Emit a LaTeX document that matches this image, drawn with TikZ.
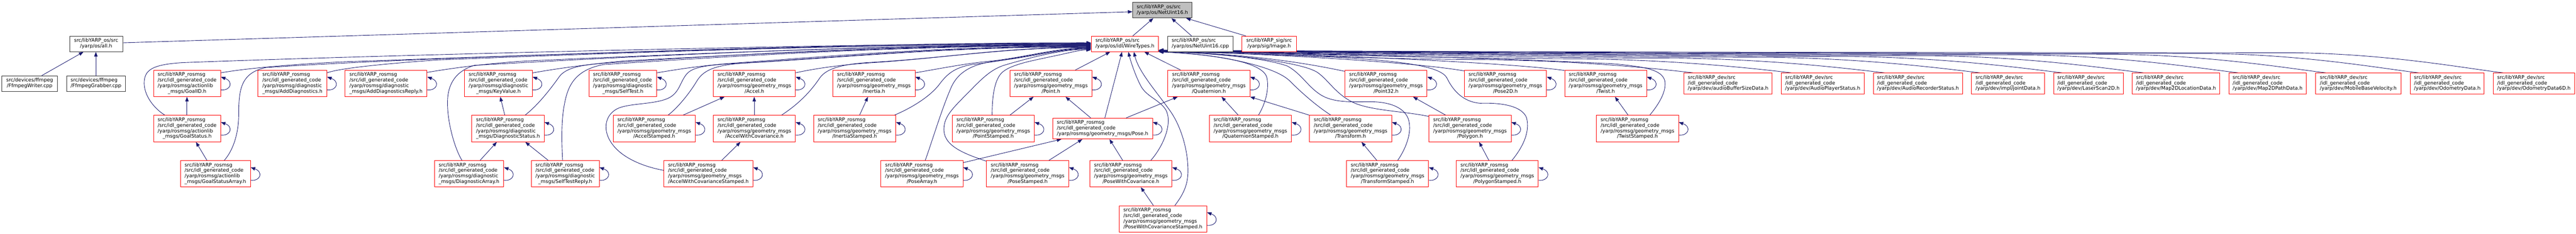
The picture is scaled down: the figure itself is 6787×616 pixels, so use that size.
\documentclass[tikz,border=0pt]{standalone}
\usepackage{fontspec}
\setmainfont{DejaVu Sans}
\usetikzlibrary{arrows.meta}
\definecolor{edgeblue}{HTML}{191970}
\definecolor{nodered}{HTML}{FF0000}
\definecolor{nodeblack}{HTML}{333333}
\definecolor{nodegrey}{HTML}{BFBFBF}
\pgfdeclarelayer{bg}
\pgfsetlayers{bg,main}
\newcommand\lbltab[1]{\begin{tabular}{@{}l@{}}#1\end{tabular}}
\newcommand\lastln[1]{\multicolumn{1}{@{}c@{}}{#1}}
\newcommand\rospre{src/libYARP\_rosmsg\\/src/idl\_generated\_code\\}
\newcommand\rosact[1]{\lbltab{\rospre/yarp/rosmsg/actionlib\\\lastln{\_msgs/#1}}}
\newcommand\rosdia[1]{\lbltab{\rospre/yarp/rosmsg/diagnostic\\\lastln{\_msgs/#1}}}
\newcommand\rosgeo[1]{\lbltab{\rospre/yarp/rosmsg/geometry\_msgs\\\lastln{/#1}}}
\newcommand\devlbl[1]{\lbltab{src/libYARP\_dev/src\\/idl\_generated\_code\\\lastln{/yarp/dev/#1}}}
\newcommand\twolbl[2]{\lbltab{#1\\\lastln{#2}}}
\tikzset{
  nd/.style={draw, line width=1.2pt, inner sep=0pt, anchor=north west, fill=white,
    font=\fontsize{13pt}{14.7pt}\selectfont},
  rnd/.style={nd, draw=nodered},
  bnd/.style={nd, draw=nodeblack},
  gnd/.style={nd, draw=nodeblack, fill=nodegrey},
  geo4/.style={rnd, minimum height=69.5pt},
  dev3/.style={rnd, minimum height=55pt},
  two/.style={minimum height=40.8pt},
  lnk/.style={draw=edgeblue, line width=1.2pt, -{Triangle[length=12pt,width=9pt]}}
}
\newcommand\sloop[1]{\draw[lnk] ([yshift=-17pt]#1.east) .. controls +(26pt,-3pt) and +(34pt,-12pt) .. ([yshift=17pt]#1.east);}
\newcommand\devedge[5]{\draw[lnk] ([xshift=#2pt]#1.north west) .. controls ({#3-100},180) and ({#3-300},{#4+3}) .. ({#3-550},#4) .. controls ({#3-550-0.4*(#3-3602)},{#4-1}) and ({3052+0.25*(#3-3602)},137) .. ([yshift=#5pt]wiretypes.south east);}
\begin{document}
\begin{tikzpicture}[x=1pt,y=-1pt]
\useasboundingbox (0,0) rectangle (6787,616);
% ---------- nodes ----------
\node[bnd, two, minimum width=145.8pt] (ffw) at (4.7,199) {\twolbl{src/devices/ffmpeg}{/FfmpegWriter.cpp}};
\node[bnd, two, minimum width=155.2pt] (ffg) at (174.8,199) {\twolbl{src/devices/ffmpeg}{/FfmpegGrabber.cpp}};
\node[bnd, two, minimum width=139.6pt] (all) at (182.8,94.7) {\twolbl{src/libYARP\_os/src}{/yarp/os/all.h}};
\node[geo4, minimum width=176.5pt] (goalid) at (404.2,184.3) {\rosact{GoalID.h}};
\node[geo4, minimum width=176.5pt] (goalstatus) at (404.2,303.3) {\rosact{GoalStatus.h}};
\node[geo4, minimum width=184.5pt] (goalstatusarray) at (474.7,422.4) {\rosact{GoalStatusArray.h}};
\node[geo4, minimum width=181.4pt] (adddiag) at (679.2,184.3) {\rosdia{AddDiagnostics.h}};
\node[geo4, minimum width=216.3pt] (adddiagreply) at (908.2,184.3) {\rosdia{AddDiagnosticsReply.h}};
\node[geo4, minimum width=178.6pt] (keyvalue) at (1223.4,184.3) {\rosdia{KeyValue.h}};
\node[geo4, minimum width=178.5pt] (selftest) at (1551.2,184.3) {\rosdia{SelfTest.h}};
\node[geo4, minimum width=190.7pt] (diagstatus) at (1242.5,303.3) {\rosdia{DiagnosticStatus.h}};
\node[geo4, minimum width=182.7pt] (diagarray) at (1143.8,422.4) {\rosdia{DiagnosticArray.h}};
\node[geo4, minimum width=178.6pt] (selftestreply) at (1399.4,422.4) {\rosdia{SelfTestReply.h}};
\node[geo4, minimum width=216.3pt] (accelstamped) at (1615,303.3) {\rosgeo{AccelStamped.h}};
\node[geo4, minimum width=216pt] (accel) at (1879,184.3) {\rosgeo{Accel.h}};
\node[geo4, minimum width=216pt] (accelwc) at (1879,303.3) {\rosgeo{AccelWithCovariance.h}};
\node[geo4, minimum width=234.7pt] (accelwcs) at (1748.4,422.4) {\rosgeo{AccelWithCovarianceStamped.h}};
\node[geo4, minimum width=216.6pt] (inertia) at (2193.6,184.3) {\rosgeo{Inertia.h}};
\node[geo4, minimum width=216.3pt] (inertiastamped) at (2143,303.3) {\rosgeo{InertiaStamped.h}};
\node[geo4, minimum width=215.9pt] (point) at (2660.3,184.3) {\rosgeo{Point.h}};
\node[geo4, minimum width=216pt] (pointstamped) at (2508.5,303.3) {\rosgeo{PointStamped.h}};
\node[geo4, minimum width=216pt] (posearray) at (2320.4,422.4) {\rosgeo{PoseArray.h}};
\node[geo4, minimum width=216.4pt] (posestamped) at (2598.7,422.4) {\rosgeo{PoseStamped.h}};
\node[rnd, minimum width=263.3pt, minimum height=55pt] (pose) at (2772.5,310.4) {\lbltab{src/libYARP\_rosmsg\\/src/idl\_generated\_code\\\lastln{/yarp/rosmsg/geometry\_msgs/Pose.h}}};
\node[gnd, two, minimum width=156.2pt] (netuint16) at (2983.7,5.9) {\twolbl{src/libYARP\_os/src}{/yarp/os/NetUint16.h}};
\node[rnd, two, minimum width=177.5pt] (wiretypes) at (2874.4,94.7) {\twolbl{src/libYARP\_os/src}{/yarp/os/idl/WireTypes.h}};
\node[bnd, two, minimum width=171.2pt] (netuint16cpp) at (3076.5,94.7) {\twolbl{src/libYARP\_os/src}{/yarp/os/NetUint16.cpp}};
\node[rnd, two, minimum width=143.3pt] (image) at (3271.5,94.7) {\twolbl{src/libYARP\_sig/src}{/yarp/sig/Image.h}};
\node[geo4, minimum width=215.9pt] (quaternion) at (3076.5,184.3) {\rosgeo{Quaternion.h}};
\node[geo4, minimum width=216.3pt] (quaternionstamped) at (3185.7,303.3) {\rosgeo{QuaternionStamped.h}};
\node[geo4, minimum width=216.4pt] (posewc) at (2870.7,422.4) {\rosgeo{PoseWithCovariance.h}};
\node[geo4, minimum width=231.1pt] (posewcs) at (2947.7,541) {\rosgeo{PoseWithCovarianceStamped.h}};
\node[geo4, minimum width=216.4pt] (point32) at (3542.8,184.3) {\rosgeo{Point32.h}};
\node[geo4, minimum width=216.3pt] (transform) at (3449.7,303.3) {\rosgeo{Transform.h}};
\node[geo4, minimum width=216pt] (transformstamped) at (3547.2,422.4) {\rosgeo{TransformStamped.h}};
\node[geo4, minimum width=216.3pt] (polygon) at (3764.3,303.3) {\rosgeo{Polygon.h}};
\node[geo4, minimum width=216.2pt] (polygonstamped) at (3836.2,422.4) {\rosgeo{PolygonStamped.h}};
\node[geo4, minimum width=216.7pt] (pose2d) at (3857.4,184.3) {\rosgeo{Pose2D.h}};
\node[geo4, minimum width=216pt] (twist) at (4121.7,184.3) {\rosgeo{Twist.h}};
\node[geo4, minimum width=216pt] (twiststamped) at (4205.7,303.3) {\rosgeo{TwistStamped.h}};
\node[dev3, minimum width=232pt] (audiobuf) at (4436.4,191.7) {\devlbl{audioBufferSizeData.h}};
\node[dev3, minimum width=218.9pt] (audioplayer) at (4692.3,191.7) {\devlbl{AudioPlayerStatus.h}};
\node[dev3, minimum width=235.3pt] (audiorec) at (4935,191.7) {\devlbl{AudioRecorderStatus.h}};
\node[dev3, minimum width=192.9pt] (jointdata) at (5193.4,191.7) {\devlbl{impl/jointData.h}};
\node[dev3, minimum width=182.7pt] (laserscan) at (5410.5,191.7) {\devlbl{LaserScan2D.h}};
\node[dev3, minimum width=230.9pt] (map2dloc) at (5617,191.7) {\devlbl{Map2DLocationData.h}};
\node[dev3, minimum width=204.2pt] (map2dpath) at (5871.8,191.7) {\devlbl{Map2DPathData.h}};
\node[dev3, minimum width=225.8pt] (mobilebase) at (6099.8,191.7) {\devlbl{MobileBaseVelocity.h}};
\node[dev3, minimum width=194.8pt] (odom) at (6349.8,191.7) {\devlbl{OdometryData.h}};
\node[dev3, minimum width=213.4pt] (odom6d) at (6568.8,191.7) {\devlbl{OdometryData6D.h}};
% ---------- connectors ----------
\begin{pgfonlayer}{bg}
\fill[white] (0,0) rectangle (6787,616);
% straight ones
\draw[lnk] ([xshift=105.4pt]ffw.north west) -- ([xshift=37.1pt]all.south west);
\draw[lnk] ([xshift=77.8pt]ffg.north west) -- ([xshift=69.8pt]all.south west);
\draw[lnk] ([yshift=3pt]all.east) -- ([yshift=-4pt]netuint16.west);
\draw[lnk] ([xshift=88.4pt]goalstatus.north west) -- ([xshift=88.4pt]goalid.south west);
\draw[lnk] ([xshift=70.6pt]goalstatusarray.north west) -- ([xshift=112pt]goalstatus.south west);
\draw[lnk] ([xshift=87.5pt]diagstatus.north west) -- ([xshift=94.6pt]keyvalue.south west);
\draw[lnk] ([xshift=121pt]diagarray.north west) -- ([xshift=66.4pt]diagstatus.south west);
\draw[lnk] ([xshift=45.1pt]selftestreply.north west) -- ([xshift=141.5pt]diagstatus.south west);
\draw[lnk] ([xshift=184.4pt]accelstamped.north west) -- ([xshift=29.7pt]accel.south west);
\draw[lnk] ([xshift=108.2pt]accelwc.north west) -- ([xshift=108.2pt]accel.south west);
\draw[lnk] ([xshift=153pt]accelwcs.north west) -- ([xshift=71.9pt]accelwc.south west);
\draw[lnk] ([xshift=121.7pt]inertiastamped.north west) -- ([xshift=93.1pt]inertia.south west);
\draw[lnk] ([xshift=152.2pt]pointstamped.north west) -- ([xshift=62.7pt]point.south west);
\draw[lnk] ([yshift=-6pt]posearray.north east) -- ([xshift=23.9pt]pose.south west);
\draw[lnk] ([xshift=164.7pt]posestamped.north west) -- ([xshift=79.2pt]pose.south west);
\draw[lnk] ([xshift=101.2pt]pose.north west) -- ([xshift=147.1pt]point.south west);
\draw[lnk] ([xshift=173pt]point.north west) -- ([xshift=50.6pt]wiretypes.south west);
\draw[lnk] ([xshift=138.5pt]pose.north west) -- ([xshift=81.8pt]wiretypes.south west);
\draw[lnk] ([xshift=33.7pt]quaternion.north west) -- ([xshift=140.5pt]wiretypes.south west);
\draw[lnk] ([xshift=194.7pt]pose.north west) -- ([xshift=26.4pt]quaternion.south west);
\draw[lnk] ([xshift=87.3pt]posewc.north west) -- ([xshift=150.7pt]pose.south west);
\draw[lnk] ([xshift=91pt]posewcs.north west) -- ([xshift=135pt]posewc.south west);
\draw[lnk] ([xshift=76.7pt]quaternionstamped.north west) -- ([xshift=141.9pt]quaternion.south west);
\draw[lnk] ([xshift=110pt]wiretypes.north west) -- ([xshift=55pt]netuint16.south west);
\draw[lnk] ([xshift=63pt]netuint16cpp.north west) -- ([xshift=102.7pt]netuint16.south west);
\draw[lnk] ([xshift=11pt]image.north west) -- ([xshift=141.2pt]netuint16.south west);
\draw[lnk] (transform.north west) -- (quaternion.south east);
\draw[lnk] ([xshift=80.3pt]transformstamped.north west) -- ([xshift=137.5pt]transform.south west);
\draw[lnk] ([xshift=44.7pt]polygon.north west) -- ([xshift=180.1pt]point32.south west);
\draw[lnk] ([xshift=86.5pt]polygonstamped.north west) -- ([xshift=132.7pt]polygon.south west);
\draw[lnk] ([xshift=84pt]twiststamped.north west) -- ([xshift=133.2pt]twist.south west);
% left bundle into WireTypes
\draw[lnk] ([yshift=-7.4pt]goalid.north east) .. controls (650,180) and (760,170) .. (900,163) .. controls (1500,142) and (2300,112) .. ([yshift=3.1pt]wiretypes.west);
\draw[lnk] ([xshift=30.2pt]goalstatus.north west) .. controls (405,285) and (378,250) .. (380,215) .. controls (382,185) and (400,170) .. (480,165) .. controls (1000,145) and (2300,113) .. ([yshift=2.1pt]wiretypes.west);
\draw[lnk] ([xshift=116.2pt]goalstatusarray.north west) .. controls (615,395) and (629,350) .. (629,300) .. controls (629,235) and (635,192) .. (700,178) .. controls (1100,150) and (2300,114) .. ([yshift=1.1pt]wiretypes.west);
\draw[lnk] ([yshift=-7.4pt]adddiag.north east) .. controls (900,178) and (1040,166) .. (1150,158) .. controls (1600,140) and (2300,115) .. ([yshift=0.1pt]wiretypes.west);
\draw[lnk] ([yshift=-6.3pt]adddiagreply.north east) .. controls (1200,178) and (1300,165) .. (1400,160) .. controls (1800,142) and (2400,117) .. ([yshift=-1.9pt]wiretypes.west);
\draw[lnk] ([yshift=-7.7pt]keyvalue.north east) .. controls (1470,180) and (1560,168) .. (1650,160) .. controls (2000,142) and (2400,119) .. ([yshift=-3.9pt]wiretypes.west);
\draw[lnk] ([xshift=73.4pt]diagarray.north west) .. controls (1200,395) and (1180,330) .. (1179,275) .. controls (1178,232) and (1192,190) .. (1250,172) .. controls (1600,152) and (2300,116) .. ([yshift=-0.9pt]wiretypes.west);
\draw[lnk] ([xshift=140.8pt]diagstatus.north west) .. controls (1420,275) and (1455,228) .. (1475,200) .. controls (1495,176) and (1540,170) .. (1600,166) .. controls (1900,146) and (2350,118) .. ([yshift=-2.9pt]wiretypes.west);
\draw[lnk] ([xshift=82.9pt]selftestreply.north west) .. controls (1480,380) and (1478,320) .. (1487,275) .. controls (1495,232) and (1510,185) .. (1590,170) .. controls (1900,150) and (2350,120) .. ([yshift=-4.9pt]wiretypes.west);
\draw[lnk] ([yshift=-7.4pt]selftest.north east) .. controls (1790,182) and (1850,172) .. (1950,165) .. controls (2200,147) and (2500,121) .. ([yshift=-5.9pt]wiretypes.west);
\draw[lnk] ([xshift=145.2pt]accelstamped.north west) .. controls (1790,280) and (1820,240) .. (1835,215) .. controls (1852,186) and (1880,172) .. (1960,166) .. controls (2220,150) and (2500,122) .. ([yshift=-6.9pt]wiretypes.west);
\draw[lnk] ([yshift=9.2pt]accelwcs.west) .. controls (1700,440) and (1640,418) .. (1612,378) .. controls (1588,345) and (1592,305) .. (1625,287) .. controls (1655,271) and (1725,276) .. (1762,258) .. controls (1792,243) and (1792,212) .. (1812,192) .. controls (1830,175) and (1870,170) .. (1965,166) .. controls (2230,151) and (2500,123) .. ([yshift=-7.9pt]wiretypes.west);
\draw[lnk] ([yshift=-7.4pt]accel.north east) .. controls (2150,180) and (2220,170) .. (2300,165) .. controls (2500,152) and (2650,124) .. ([yshift=-8.9pt]wiretypes.west);
\draw[lnk] ([xshift=180pt]accelwc.north west) .. controls (2110,270) and (2140,235) .. (2160,205) .. controls (2178,180) and (2220,168) .. (2300,164) .. controls (2500,152) and (2650,125) .. ([yshift=-9.9pt]wiretypes.west);
\draw[lnk] ([yshift=-7.4pt]inertia.north east) .. controls (2480,180) and (2540,168) .. (2600,162) .. controls (2700,152) and (2780,126) .. ([yshift=-10.9pt]wiretypes.west);
\draw[lnk] ([xshift=213.3pt]inertiastamped.north west) .. controls (2400,285) and (2450,255) .. (2475,222) .. controls (2495,195) and (2515,178) .. (2560,170) .. controls (2680,157) and (2780,127) .. ([yshift=-11.9pt]wiretypes.west);
\draw[lnk] ([xshift=117.3pt]posearray.north west) .. controls (2460,360) and (2480,290) .. (2507,228) .. controls (2525,190) and (2560,170) .. (2615,162) .. controls (2720,150) and (2800,128) .. ([yshift=-12.9pt]wiretypes.west);
\draw[lnk] ([yshift=-2pt]posestamped.north west) .. controls (2540,405) and (2490,385) .. (2487,345) .. controls (2485,312) and (2505,290) .. (2540,255) .. controls (2580,215) and (2605,185) .. (2645,172) .. controls (2720,150) and (2800,129.5) .. ([yshift=-14.4pt]wiretypes.west);
\draw[lnk] ([xshift=105.3pt]pointstamped.north west) .. controls (2614,262) and (2618,215) .. (2638,193) .. controls (2660,170) and (2720,160) .. (2765,150) .. controls (2815,140) and (2845,131) .. ([yshift=-15.9pt]wiretypes.west);
% near WireTypes from below
\draw[lnk] ([xshift=161.3pt]posewc.north west) .. controls (3065,385) and (3090,325) .. (3072,290) .. controls (3055,262) and (3020,255) .. (3005,225) .. controls (2992,200) and (2980,165) .. ([xshift=98.3pt]wiretypes.south west);
\draw[lnk] ([xshift=147.8pt]posewcs.north west) .. controls (3115,515) and (3130,490) .. (3130,450) .. controls (3130,395) and (3112,335) .. (3085,295) .. controls (3050,245) and (3000,190) .. ([xshift=113pt]wiretypes.south west);
% right bundle into WireTypes
\draw[lnk] ([xshift=129.9pt]quaternionstamped.north west) .. controls (3330,280) and (3345,240) .. (3338,205) .. controls (3330,168) and (3230,145) .. (wiretypes.south east);
\draw[lnk] ([xshift=56.8pt]transform.north west) .. controls (3470,280) and (3430,245) .. (3400,215) .. controls (3360,172) and (3200,142) .. ([yshift=1pt]wiretypes.south east);
\draw[lnk] ([yshift=-3.5pt]point32.north west) .. controls (3450,168) and (3300,142) .. ([yshift=1.5pt]wiretypes.south east);
\draw[lnk] ([xshift=135.3pt]transformstamped.north west) .. controls (3705,390) and (3722,345) .. (3710,312) .. controls (3698,282) and (3660,268) .. (3610,268) .. controls (3570,268) and (3515,272) .. (3480,250) .. controls (3445,228) and (3430,195) .. (3392,174) .. controls (3320,148) and (3150,139) .. ([yshift=2pt]wiretypes.south east);
\draw[lnk] ([yshift=-3.2pt]polygon.north west) .. controls (3700,293) and (3620,292) .. (3570,272) .. controls (3520,250) and (3500,210) .. (3470,190) .. controls (3420,160) and (3220,141) .. ([yshift=2.5pt]wiretypes.south east);
\draw[lnk] ([xshift=147.3pt]polygonstamped.north west) .. controls (4010,390) and (4032,350) .. (4022,310) .. controls (4010,280) and (3960,270) .. (3900,272) .. controls (3850,268) and (3825,232) .. (3812,205) .. controls (3795,175) and (3700,160) .. (3500,150) .. controls (3300,141) and (3150,138) .. ([yshift=3pt]wiretypes.south east);
\draw[lnk] ([yshift=-2.3pt]pose2d.north west) .. controls (3700,160) and (3300,141) .. ([yshift=3.5pt]wiretypes.south east);
\draw[lnk] ([yshift=-1.2pt]twist.north west) .. controls (3950,162) and (3400,141) .. ([yshift=4pt]wiretypes.south east);
\draw[lnk] ([xshift=140.8pt]twiststamped.north west) .. controls (4370,275) and (4392,240) .. (4386,212) .. controls (4378,185) and (4340,176) .. (4250,168) .. controls (3900,150) and (3350,140) .. ([yshift=4.5pt]wiretypes.south east);
\devedge{audiobuf}{23.8}{4460.2}{157}{0.5}
\devedge{audioplayer}{26.7}{4719}{155}{1}
\devedge{audiorec}{29.7}{4964.7}{153}{1.5}
\devedge{jointdata}{22.8}{5216.2}{151}{2}
\devedge{laserscan}{22}{5432.5}{149}{2.5}
\devedge{map2dloc}{30}{5647}{147}{3}
\devedge{map2dpath}{24.9}{5896.7}{145}{3.5}
\devedge{mobilebase}{27.9}{6127.7}{143}{4}
\devedge{odom}{22.2}{6372}{141}{4.5}
\devedge{odom6d}{26}{6594.8}{139}{5}
% self loops
\sloop{goalid}\sloop{goalstatus}\sloop{goalstatusarray}
\sloop{adddiag}\sloop{adddiagreply}\sloop{keyvalue}\sloop{selftest}
\sloop{diagstatus}\sloop{diagarray}\sloop{selftestreply}
\sloop{accelstamped}\sloop{accel}\sloop{accelwc}\sloop{accelwcs}
\sloop{inertia}\sloop{inertiastamped}\sloop{point}\sloop{pointstamped}
\sloop{posearray}\sloop{posestamped}\sloop{pose}\sloop{quaternion}
\sloop{quaternionstamped}\sloop{posewc}\sloop{posewcs}\sloop{point32}
\sloop{transform}\sloop{transformstamped}\sloop{polygon}\sloop{polygonstamped}
\sloop{pose2d}\sloop{twist}\sloop{twiststamped}
\end{pgfonlayer}
\end{tikzpicture}
\end{document}
